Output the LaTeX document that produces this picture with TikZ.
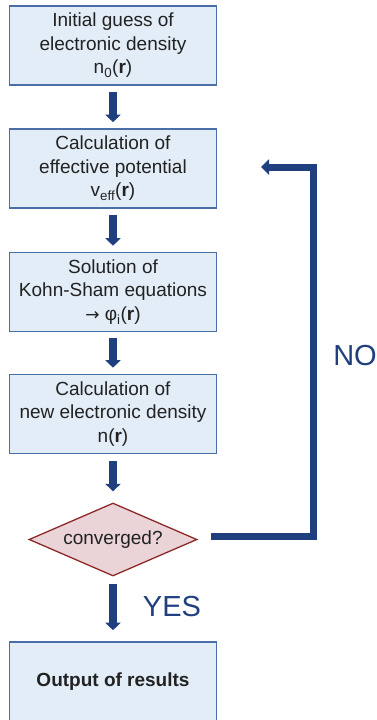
\documentclass[tikz,border=0pt]{standalone}
\usepackage{fontspec}
\setmainfont{Liberation Sans}
\newfontfamily\arrowfont{DejaVu Sans}
\usetikzlibrary{arrows.meta,shapes.geometric}
\definecolor{boxfill}{HTML}{E3EDF7}
\definecolor{boxline}{HTML}{4A6FA8}
\definecolor{arrblue}{HTML}{1F3F7F}
\definecolor{dfill}{HTML}{EBD4D7}
\definecolor{dline}{HTML}{8E2828}
\definecolor{txt}{HTML}{222222}
\begin{document}
\begin{tikzpicture}[x=1pt,y=-1pt,
  stepbox/.style={draw=boxline, fill=boxfill, line width=1.6pt, minimum width=207pt, minimum height=79pt, inner sep=0pt, align=center, font=\fontsize{19}{23.5}\selectfont, text=txt},
  decision/.style={diamond, draw=dline, fill=dfill, line width=1.3pt, minimum width=168pt, minimum height=73pt, inner sep=0pt, aspect=2.3, font=\fontsize{19}{22}\selectfont, text=txt},
  flow/.style={draw=arrblue, line width=8pt, -{Triangle[width=15pt,length=7.5pt]}},
  loopline/.style={draw=arrblue, line width=7pt, line join=miter, -{Triangle[width=15pt,length=8pt]}},
  lbl/.style={text=arrblue, font=\fontsize{29}{32}\selectfont, inner sep=0pt}]
\useasboundingbox (0,0) rectangle (377,720);
\node[stepbox] (b1) at (113,45.5) {Initial guess of\\electronic density\\n\textsubscript{0}(\textbf{r})};
\node[stepbox] (b2) at (113,168.5) {Calculation of\\effective potential\\v\textsubscript{eff}(\textbf{r})};
\node[stepbox] (b3) at (113,292) {Solution of\\Kohn-Sham equations\\{\arrowfont\fontsize{17}{20}\selectfont →} φ\textsubscript{i}(\textbf{r})};
\node[stepbox] (b4) at (113,414) {Calculation of\\new electronic density\\n(\textbf{r})};
\node[decision] (d) at (113,539.5) {converged?};
\node[stepbox, font=\fontsize{19}{22}\selectfont\bfseries] (b5) at (113,681.5) {Output of results};
\draw[flow, shorten <=6pt, shorten >=6pt] (b1) -- (b2);
\draw[flow, shorten <=6pt, shorten >=6pt] (b2) -- (b3);
\draw[flow, shorten <=6pt, shorten >=6pt] (b3) -- (b4);
\draw[flow, shorten <=7pt, shorten >=11pt] (b4.south) -- (d.north);
\draw[flow, shorten <=7pt, shorten >=11pt] (d.south) -- (b5.north);
\coordinate (corner) at (313,167);
\coordinate (noend) at (261,167);
\draw[loopline] ([xshift=13pt,yshift=3.5pt]d.east) -| (corner) -- (noend);
\node[lbl] (yes) at (172,607) {YES};
\node[lbl] (no) at (355,356) {NO};
\end{tikzpicture}
\end{document}
